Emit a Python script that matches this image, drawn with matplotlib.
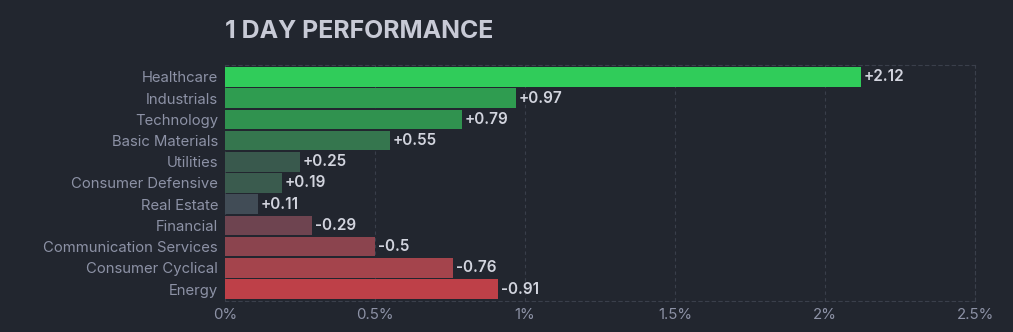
import matplotlib.pyplot as plt
import numpy as np

sectors = ['Healthcare', 'Industrials', 'Technology', 'Basic Materials', 'Utilities',
           'Consumer Defensive', 'Real Estate', 'Financial', 'Communication Services',
           'Consumer Cyclical', 'Energy']
change = [2.12, 0.97, 0.79, 0.55, 0.25, 0.19, 0.11, -0.29, -0.5, -0.76, -0.91]
colors = ['#30cc5a', '#2f9c50', '#30924f', '#35764e', '#39594d', '#3a5b4e',
          '#414c56', '#6e4450', '#8b444e', '#a4444c', '#be4048']
ticks = [0, 0.5, 1, 1.5, 2, 2.5]

bg = '#22262f'
plt.rcParams['font.family'] = ['Inter', 'DejaVu Sans']

fig = plt.figure(figsize=(10.13, 3.32), dpi=100, facecolor=bg)
ax = fig.add_axes([0.2221, 0.0934, 0.7404, 0.7108], facecolor=bg)

y = np.arange(len(sectors))
vals = np.abs(change)
ax.barh(y, vals, height=0.92, color=colors, zorder=3)

for i, v in enumerate(change):
    ax.annotate(f'{v:+g}', (vals[i], i), xytext=(2, 0), textcoords='offset points',
                va='center', ha='left', fontsize=11, fontweight='semibold', color='#d2d4de')

ax.set_xlim(0, 2.5)
ax.set_ylim(len(sectors) - 0.44, -0.56)
ax.set_yticks(y)
ax.set_yticklabels(sectors)
ax.set_xticks(ticks)
ax.set_xticklabels([f'{t:g}%' for t in ticks])
ax.tick_params(length=0, colors='#8d92a6')
ax.tick_params(axis='y', pad=5, labelsize=10.7)
ax.tick_params(axis='x', pad=5, labelsize=10.8)
ax.grid(axis='x', color='#3a3f4b', linestyle=(0, (3, 3)), linewidth=0.8, zorder=0)
for s in ['top', 'right', 'bottom']:
    ax.spines[s].set_color('#3a3f4b')
    ax.spines[s].set_linestyle((0, (3, 3)))
    ax.spines[s].set_linewidth(0.8)
ax.spines['left'].set_visible(False)

fig.text(0.2221, 0.886, '1 DAY PERFORMANCE', fontsize=17.9, fontweight='bold',
         color='#c8cad6', ha='left', va='baseline')

fig.savefig('out.png', dpi=100, facecolor=bg)
